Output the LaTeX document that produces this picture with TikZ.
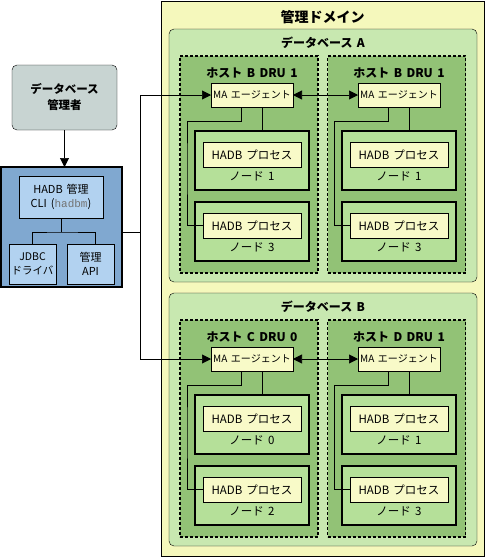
\documentclass[tikz,border=0pt]{standalone}
\usepackage{fontspec}
\setmainfont{Noto Sans CJK JP}[WordSpace=1.6]
\setmonofont{Liberation Mono}
\usepackage{tikz}
\usetikzlibrary{arrows.meta,positioning}

\definecolor{domyellow}{RGB}{245,248,188}
\definecolor{dbgreen}{RGB}{200,232,176}
\definecolor{hostgreen}{RGB}{146,194,118}
\definecolor{nodegreen}{RGB}{181,224,153}
\definecolor{paleyel}{RGB}{248,250,200}
\definecolor{admingray}{RGB}{200,212,210}
\definecolor{mgrblue}{RGB}{128,168,208}
\definecolor{lightblue}{RGB}{178,210,240}

\begin{document}
\begin{tikzpicture}[
  x=1pt, y=-1pt,
  every node/.style={inner sep=0pt, outer sep=0pt},
  dombox/.style={draw, fill=domyellow, minimum width=323pt, minimum height=555pt},
  dbbox/.style={draw, rounded corners=5pt, fill=dbgreen, minimum width=308pt, minimum height=253pt},
  hostbox/.style={draw, line width=1.2pt, dash pattern=on 3pt off 2pt, fill=hostgreen, minimum width=138pt, minimum height=217pt},
  nodebox/.style={draw, line width=1.6pt, fill=nodegreen, minimum width=114pt, minimum height=59pt},
  ma/.style={draw, fill=paleyel, minimum width=82pt, minimum height=24pt, font=\fontsize{10}{11}\selectfont},
  hadb/.style={draw, fill=paleyel, minimum width=98pt, minimum height=25pt, font=\fontsize{11.5}{12}\selectfont},
  nodelbl/.style={font=\fontsize{11.5}{12}\selectfont},
  bigtitle/.style={font=\fontsize{14}{16}\selectfont\bfseries},
  subtitle/.style={font=\fontsize{12}{14}\selectfont\bfseries},
  admin/.style={draw, rounded corners=5pt, fill=admingray, minimum width=105pt, minimum height=65pt, align=center, font=\fontsize{11.5}{16}\selectfont\bfseries},
  mgrbox/.style={draw, line width=1.8pt, fill=mgrblue, minimum width=121pt, minimum height=120pt},
  part/.style={draw, fill=lightblue, align=center, font=\fontsize{11}{14}\selectfont},
  arr/.style={-{Triangle[length=9pt,width=9pt]}, semithick},
  dbl/.style={{Triangle[length=9pt,width=9pt]}-{Triangle[length=9pt,width=9pt]}, semithick}
]
  \useasboundingbox (0,0) rectangle (488,558);

  % left side
  \node[admin] (dba) at (64.5,97.5) {データベース\\管理者};
  \node[mgrbox] (mgr) at (61.5,227) {};
  \node[part, minimum width=84pt, minimum height=42pt] (cli) at (61,197) {HADB 管理\\CLI ({\ttfamily\color{black!55}hadbm})};
  \node[part, minimum width=47pt, minimum height=40pt, font=\fontsize{10.5}{14}\selectfont] (jdbc) at (32.5,264) {JDBC\\ドライバ};
  \node[part, minimum width=47pt, minimum height=40pt] (api) at (90.5,264) {管理\\API};

  \draw[arr] (dba.south) -- (dba.south |- mgr.north);
  \draw (cli.south) -- ++(0,14) coordinate (fork);
  \draw (jdbc.north) |- (fork) -| ([xshift=5pt]api.north);

  % domain
  \node[dombox] (dom) at (322.5,278.5) {};
  \node[bigtitle, below=9pt of dom.north] (tdom) {管理ドメイン};

  \node[dbbox] (dbA) at (323,155.5) {};
  \node[subtitle, below=8pt of dbA.north] (tdbA) {データベース A};
  \node[dbbox] (dbB) at (323,419.5) {};
  \node[subtitle, below=8pt of dbB.north] (tdbB) {データベース B};

  % database A
  \node[hostbox] (hA1) at (249,164.5) {};
  \node[ma] (maA1) at (252,95) {MA エージェント};
  \node[subtitle, above=5pt of maA1] (thA1) {ホスト B DRU 1};
  \node[nodebox, below=24pt of maA1] (nA1) {};
  \node[hadb, below=11pt of nA1.north] (pA1) {HADB プロセス};
  \node[nodelbl, below=5pt of pA1] (lA1) {ノード 1};
  \node[nodebox, below=12pt of nA1] (nA3) {};
  \node[hadb, below=11pt of nA3.north] (pA3) {HADB プロセス};
  \node[nodelbl, below=5pt of pA3] (lA3) {ノード 3};
  \draw ([xshift=10pt]maA1.south) -- ([xshift=10pt]nA1.north);
  \draw ([xshift=-11pt]maA1.south) -- ++(0,14) -| ([xshift=7pt]hA1.west) |- (pA3.west);

  \node[hostbox] (hA2) at (396.5,164.5) {};
  \node[ma] (maA2) at (399,95) {MA エージェント};
  \node[subtitle, above=5pt of maA2] (thA2) {ホスト B DRU 1};
  \node[nodebox, below=24pt of maA2] (nA2) {};
  \node[hadb, below=11pt of nA2.north] (pA2) {HADB プロセス};
  \node[nodelbl, below=5pt of pA2] (lA2) {ノード 1};
  \node[nodebox, below=12pt of nA2] (nA4) {};
  \node[hadb, below=11pt of nA4.north] (pA4) {HADB プロセス};
  \node[nodelbl, below=5pt of pA4] (lA4) {ノード 3};
  \draw ([xshift=10pt]maA2.south) -- ([xshift=10pt]nA2.north);
  \draw ([xshift=-11pt]maA2.south) -- ++(0,14) -| ([xshift=7pt]hA2.west) |- (pA4.west);

  % database B
  \node[hostbox] (hB1) at (249,428.5) {};
  \node[ma] (maB1) at (252,359) {MA エージェント};
  \node[subtitle, above=5pt of maB1] (thB1) {ホスト C DRU 0};
  \node[nodebox, below=24pt of maB1] (nB0) {};
  \node[hadb, below=11pt of nB0.north] (pB0) {HADB プロセス};
  \node[nodelbl, below=5pt of pB0] (lB0) {ノード 0};
  \node[nodebox, below=12pt of nB0] (nB2) {};
  \node[hadb, below=11pt of nB2.north] (pB2) {HADB プロセス};
  \node[nodelbl, below=5pt of pB2] (lB2) {ノード 2};
  \draw ([xshift=10pt]maB1.south) -- ([xshift=10pt]nB0.north);
  \draw ([xshift=-11pt]maB1.south) -- ++(0,14) -| ([xshift=7pt]hB1.west) |- (pB2.west);

  \node[hostbox] (hB2) at (396.5,428.5) {};
  \node[ma] (maB2) at (399,359) {MA エージェント};
  \node[subtitle, above=5pt of maB2] (thB2) {ホスト D DRU 1};
  \node[nodebox, below=24pt of maB2] (nB1) {};
  \node[hadb, below=11pt of nB1.north] (pB1) {HADB プロセス};
  \node[nodelbl, below=5pt of pB1] (lB1) {ノード 1};
  \node[nodebox, below=12pt of nB1] (nB3) {};
  \node[hadb, below=11pt of nB3.north] (pB3) {HADB プロセス};
  \node[nodelbl, below=5pt of pB3] (lB3) {ノード 3};
  \draw ([xshift=10pt]maB2.south) -- ([xshift=10pt]nB1.north);
  \draw ([xshift=-11pt]maB2.south) -- ++(0,14) -| ([xshift=7pt]hB2.west) |- (pB3.west);

  % links
  \draw[dbl] (maA1) -- (maA2);
  \draw[dbl] (maB1) -- (maB2);
  \coordinate (busA) at (140,95);
  \coordinate (busB) at (140,359);
  \coordinate (mgrout) at ([yshift=-5pt]mgr.east);
  \draw (busA) -- (busB);
  \draw (mgrout) -- (mgrout -| busA);
  \draw[arr] (busA) -- (maA1);
  \draw[arr] (busB) -- (maB1);
\end{tikzpicture}
\end{document}
